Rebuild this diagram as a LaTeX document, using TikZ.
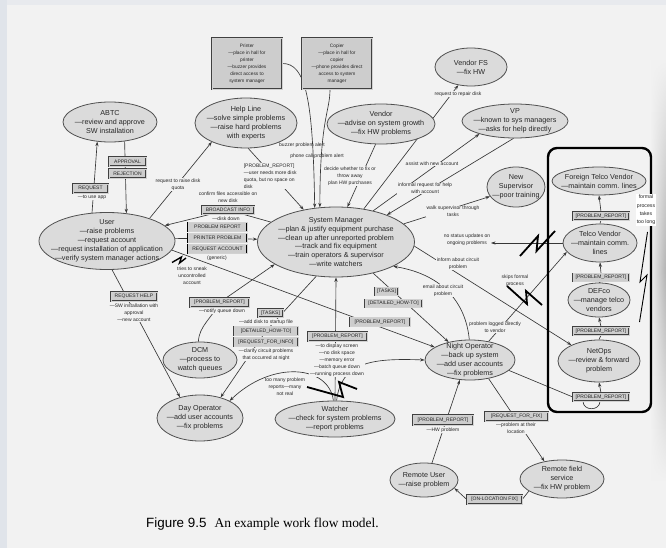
\documentclass[tikz,border=0pt]{standalone}
\usepackage{fontspec}
\setmainfont{Liberation Sans}
\newfontfamily\captionserif{Liberation Serif}
\usetikzlibrary{shapes.geometric,arrows.meta,calc,fadings}

\definecolor{paper}{RGB}{242,242,242}
\definecolor{edgestrip}{RGB}{224,228,234}
\definecolor{bubble}{RGB}{219,219,219}
\definecolor{bubbleline}{RGB}{80,80,80}
\definecolor{tagfill}{RGB}{205,205,205}
\definecolor{ink}{RGB}{55,55,55}

\tikzfading[name=fade at ends, top color=transparent!100, bottom color=transparent!100, middle color=transparent!0]

\pgfdeclarelayer{paperlayer}
\pgfdeclarelayer{linklayer}
\pgfsetlayers{paperlayer,linklayer,main}

\tikzset{
  role/.style={ellipse, draw=bubbleline, line width=0.8pt, fill=bubble, inner sep=0pt},
  roletext/.style={align=center, inner sep=0pt, text=black!85,
    font=\fontsize{7.2}{8.9}\selectfont},
  tag/.style={rectangle, draw=black!75, line width=0.4pt, double=white!82!black,
    double distance=0.5pt, fill=tagfill, inner sep=0pt, minimum height=9pt,
    font=\fontsize{5}{6}\selectfont, text=black!85},
  strongtag/.style={tag, draw=black, line width=0.6pt},
  notebox/.style={tag, align=center, font=\fontsize{4.8}{7}\selectfont},
  note/.style={align=center, inner sep=0.6pt, fill=paper, text=black!85,
    font=\fontsize{5}{7}\selectfont},
  bare/.style={note, fill=none},
  link/.style={draw=ink, line width=0.65pt},
  arr/.style={link, -{Stealth[length=4.5pt,width=3.2pt]}},
  bolt/.style={draw=black, line width=1.8pt, line join=miter},
}

\begin{document}
\begin{tikzpicture}[x=1pt,y=-1pt]
\useasboundingbox (0,0) rectangle (666,548);

% ---------- paper ----------
\begin{pgfonlayer}{paperlayer}
  \fill[paper] (0,0) rectangle (666,548);
  \fill[edgestrip] (0,0) rectangle (7,548);
  \fill[edgestrip!55!paper] (7,0) rectangle (666,5);
  \shade[left color=paper, right color=black!30, path fading=fade at ends] (650,60) rectangle (666,480);
\end{pgfonlayer}

% ---------- actors ----------
\node[role, minimum width=94pt, minimum height=40pt] (ABTC) at (110,122) {};
\node[roletext] at (ABTC) {ABTC\\—review and approve\\SW installation};

\node[role, minimum width=102pt, minimum height=50pt] (HelpLine) at (246,123) {};
\node[roletext] at (HelpLine) {Help Line\\—solve simple problems\\—raise hard problems\\with experts};

\node[role, minimum width=72pt, minimum height=38pt] (VendorFS) at (471,67) {};
\node[roletext] at (VendorFS) {Vendor FS\\—fix HW};

\node[role, minimum width=108pt, minimum height=40pt] (Vendor) at (381,124) {};
\node[roletext] at (Vendor) {Vendor\\—advise on system growth\\—fix HW problems};

\node[role, minimum width=106pt, minimum height=34pt] (VP) at (515,121) {};
\node[roletext] at (VP) {VP\\—known to sys managers\\—asks for help directly};

\node[role, minimum width=58pt, minimum height=40pt] (NewSup) at (516,187) {};
\node[roletext] at (NewSup) {New\\Supervisor\\—poor training};

\node[role, minimum width=136pt, minimum height=57pt] (User) at (107,241) {};
\node[roletext] at (User) {User\\—raise problems\\—request account\\—request installation of application\\—verify system manager actions};

\node[role, minimum width=157pt, minimum height=70pt] (SM) at (336,242) {};
\node[roletext] at (SM) {System Manager\\—plan \& justify equipment purchase\\—clean up after unreported problem\\—track and fix equipment\\—train operators \& supervisor\\—write watchers};

\node[role, minimum width=94pt, minimum height=28pt] (FTV) at (599,181) {};
\node[roletext] at (FTV) {Foreign Telco Vendor\\—maintain comm. lines};

\node[role, minimum width=74pt, minimum height=38pt] (TV) at (600,243) {};
\node[roletext] at (TV) {Telco Vendor\\—maintain comm.\\lines};

\node[role, minimum width=62pt, minimum height=34pt] (DEFco) at (599,300) {};
\node[roletext] at (DEFco) {DEFco\\—manage telco\\vendors};

\node[role, minimum width=82pt, minimum height=42pt] (NetOps) at (599,361) {};
\node[roletext] at (NetOps) {NetOps\\—review \& forward\\problem};

\node[role, minimum width=74pt, minimum height=36pt] (DCM) at (200,360) {};
\node[roletext] at (DCM) {DCM\\—process to\\watch queues};

\node[role, minimum width=86pt, minimum height=46pt] (DayOp) at (200,418) {};
\node[roletext] at (DayOp) {Day Operator\\—add user accounts\\—fix problems};

\node[role, minimum width=120pt, minimum height=36pt] (Watcher) at (335,419) {};
\node[roletext] at (Watcher) {Watcher\\—check for system problems\\—report problems};

\node[role, minimum width=90pt, minimum height=40pt] (NightOp) at (470,360) {};
\node[roletext] at (NightOp) {Night Operator\\—back up system\\—add user accounts\\—fix problems};

\node[role, minimum width=68pt, minimum height=34pt] (RemoteUser) at (424,480) {};
\node[roletext] at (RemoteUser) {Remote User\\—raise problem};

\node[role, minimum width=84pt, minimum height=38pt] (RFS) at (562,479) {};
\node[roletext] at (RFS) {Remote field\\service\\—fix HW problem};

% ---------- devices ----------
\node[notebox, minimum width=70pt, minimum height=51pt] (Printer) at (247,63.5)
  {Printer\\—place in hall for\\printer\\—buzzer provides\\direct access to\\system manager};
\node[notebox, minimum width=70pt, minimum height=51pt] (Copier) at (337,63.5)
  {Copier\\—place in hall for\\copier\\—phone provides direct\\access to system\\manager};

% ---------- telco group frame ----------
\draw[black, line width=2.4pt, rounded corners=9pt] (548,148) rectangle (651,412);

% ---------- message tags ----------
\node[tag, minimum width=37pt] (bApproval) at (127.5,161.5) {APPROVAL};
\node[tag, minimum width=37pt] (bRejection) at (127.5,173.5) {REJECTION};
\node[tag, minimum width=35pt] (bRequest) at (90.5,188.5) {REQUEST};
\node[tag, minimum width=52pt, minimum height=8pt] (bBroadcast) at (228,210) {BROADCAST INFO};
\node[strongtag, minimum width=59pt] (bProb) at (217.5,227) {PROBLEM REPORT};
\node[strongtag, minimum width=59pt] (bPrinterP) at (217.5,238) {PRINTER PROBLEM};
\node[strongtag, minimum width=59pt] (bReqAcct) at (217.5,249) {REQUEST ACCOUNT};
\node[tag, minimum width=46pt] (bReqHelp) at (134,296.5) {REQUEST HELP};
\node[tag, minimum width=59pt] (bPRdcm) at (219.5,302.5) {[PROBLEM\_REPORT]};
\node[tag, minimum width=25pt, minimum height=8pt] (bTasksL) at (270.5,313) {[TASKS]};
\node[tag, minimum width=64pt] (bHowToL) at (266,331) {[DETAILED\_HOW-TO]};
\node[tag, minimum width=64pt] (bReqInfo) at (266,342) {[REQUEST\_FOR\_INFO]};
\node[tag, minimum width=59pt] (bPRwatch) at (337.5,336.5) {[PROBLEM\_REPORT]};
\node[tag, minimum width=23pt, minimum height=8pt] (bTasksR) at (386.5,291.5) {[TASKS]};
\node[tag, minimum width=57pt, minimum height=8pt] (bHowToR) at (393.5,303.5) {[DETAILED\_HOW-TO]};
\node[tag, minimum width=60pt] (bPRnight) at (380,322) {[PROBLEM\_REPORT]};
\node[tag, minimum width=60pt, minimum height=10pt] (bPRremote) at (443,420) {[PROBLEM\_REPORT]};
\node[tag, minimum width=63pt] (bReqFix) at (516.5,416.5) {[REQUEST\_FOR\_FIX]};
\node[tag, minimum width=55pt] (bOnLoc) at (494.5,499.5) {[ON-LOCATION FIX]};
\node[tag, minimum width=56pt, minimum height=8pt] (bPR1) at (601,216) {[PROBLEM\_REPORT]};
\node[tag, minimum width=56pt, minimum height=8pt] (bPR2) at (601,277.5) {[PROBLEM\_REPORT]};
\node[tag, minimum width=56pt, minimum height=8pt] (bPR3) at (601,331) {[PROBLEM\_REPORT]};
\node[tag, minimum width=56pt, minimum height=8pt] (bPR4) at (601,397) {[PROBLEM\_REPORT]};

% ---------- flow labels ----------
\node[note] (tToUseApp) at (92,197) {—to use app};
\node[note] (tQuota) at (178,184.5) {request to raise disk\\quota};
\node[note, align=left, anchor=west] (tPRhelp) at (243,176) {[PROBLEM\_REPORT]\\—user needs more disk\\quota, but no space on\\disk};
\node[note] (tConfirm) at (228,197.5) {confirm files accessible on\\new disk};
\node[note] (tDiskDown) at (226,218.5) {—disk down};
\node[note] (tGeneric) at (217,258) {(generic)};
\node[note] (tSneak) at (192,275.5) {tries to sneak\\uncontrolled\\account};
\node[note] (tReqHelp) at (134,313) {—SW installation with\\approval\\—new account};
\node[note] (tNotify) at (222,311) {—notify queue down};
\node[note] (tAddDisk) at (266,322) {—add disk to startup file};
\node[note] (tClarify) at (266,354.5) {—clarify circuit problems\\that occurred at night};
\node[note] (tWatchList) at (337,360) {—to display screen\\—no disk space\\—memory error\\—batch queue down\\—running process down};
\node[note] (tTooMany) at (285,387) {too many problem\\reports—many\\not real};
\node[note] (tHW) at (443,430) {—HW problem};
\node[note] (tLocation) at (516,428) {—problem at their\\location};
\node[bare] (tBuzzer) at (302,145) {buzzer problem alert};
\node[bare] (tPhone) at (317,156) {phone call problem alert};
\node[note] (tDecide) at (350,176) {decide whether to fix or\\throw away\\plan HW purchases};
\node[note] (tRepair) at (458,94) {request to repair disk};
\node[note] (tAssist) at (432,164) {assist with new account};
\node[note] (tInformal) at (425,188.5) {informal request for help\\with account};
\node[note] (tWalk) at (453,211.5) {walk supervisor through\\tasks};
\node[note] (tNoStatus) at (467,239.5) {no status updates on\\ongoing problems};
\node[note] (tInform) at (458,263.5) {inform about circuit\\problem};
\node[note] (tSkips) at (515,280.5) {skips formal\\process};
\node[note] (tEmail) at (443,290.5) {email about circuit\\problem};
\node[note] (tLogged) at (495,327.5) {problem logged directly\\to vendor};
\node[note, fill=white, inner sep=1pt, font=\fontsize{5.2}{8.4}\selectfont] (tFormal) at (646,210) {formal\\process\\takes\\too long};

% ---------- connectors ----------
\begin{pgfonlayer}{linklayer}
  % user and approvals
  \draw[arr] (User.118) -- (ABTC.-123);
  \draw[arr] (ABTC.-53) -- (User.55);
  \draw[arr] (User.28) -- (HelpLine.-151);
  \draw[arr] (HelpLine.-85) -- (SM.135);
  \draw[arr] (SM.163) -- (bBroadcast.center) -- (User.15);
  \draw[arr] (User.2) -- (bPrinterP.center) -- (SM.178);
  \draw[arr] (User.-8) -- (NightOp.160);
  \draw[arr] (User.-80) -- (DayOp.134);
  % alerts from the hall devices
  \draw[arr] (Printer.east) .. controls (306,63) and (313,100) .. (SM.122);
  \draw[arr] ([xshift=-7pt]Copier.south) .. controls (330,112) and (320,118) .. (SM.115);
  % vendors and management
  \draw[arr] (Vendor.-105) -- (SM.72);
  \draw[arr] (SM.50) -- (VendorFS.-125);
  \draw[arr] (SM.40) -- (VP.-160);
  \draw[arr] (VP.-95) -- (SM.28);
  \draw[arr] (SM.15) -- (NewSup.-160);
  \draw[arr] (TV.west) -- (TV.west -| tNoStatus.east);
  \draw[arr] (SM.-3) -- (NetOps.150);
  % operators
  \draw[arr] (NightOp.92) .. controls (466,305) and (445,275) .. (SM.-23);
  \draw[arr] (NightOp.45) -- (TV.-165);
  \draw[arr] (SM.-40) -- (NightOp.140);
  \draw[arr] (SM.-120) -- (bHowToL.center) -- (DayOp.45);
  \draw[arr] (DCM.95) .. controls (199,326) and (212,318) .. (bPRdcm.center) -- (SM.-160);
  \draw[arr] (Watcher.north) -- (SM.south);
  \draw[arr] (Watcher.95) .. controls (329,365) and (272,360) .. (DayOp.30);
  \draw[arr] (Watcher.85) .. controls (341,362) and (372,358) .. (NightOp.west);
  % remote sites
  \draw[arr] (RemoteUser.65) -- (NightOp.-117);
  \draw[arr] (NightOp.-45) -- (RFS.135);
  \draw[arr] (RFS.-160) -- (bOnLoc.east) -- (bOnLoc.west) -- (RemoteUser.-15);
  % telco escalation chain
  \draw[link] (NightOp.-15) -- (bPR4.west);
  \draw[link] ([xshift=-18pt]bPR4.south) .. controls +(0,10) and +(0,10) .. ([xshift=-1pt]bPR4.south);
  \draw[arr] (bPR4.north) -- (NetOps.south);
  \draw[link] (NetOps.north) -- (bPR3.south);
  \draw[arr] (bPR3.north) -- (DEFco.south);
  \draw[link] (DEFco.north) -- (bPR2.south);
  \draw[arr] (bPR2.north) -- (TV.south);
  \draw[link] (TV.north) -- (bPR1.south);
  \draw[arr] (bPR1.north) -- (FTV.south);
\end{pgfonlayer}

% ---------- breakdowns ----------
\draw[bolt, line width=1.4pt] (172,262.5) -- (181.5,257) -- (179.5,263) -- (186,258);
\draw[bolt] (520,256) -- (538,236) -- (536.5,251) -- (555,231);
\draw[bolt] (507,286) -- (527,304) -- (526,291) -- (542,305);
\draw[bolt] (307,387) -- (343,397) -- (339,382) -- (357,389);
\draw[black, line width=0.9pt] (647.5,232) -- (640,282) -- (647,275) -- (639.5,322);

% ---------- caption ----------
\node[anchor=base west, inner sep=0pt, font=\fontsize{13.4}{15}\selectfont] (caption) at (146,527.5)
  {Figure 9.5\hspace{0.6em}{\captionserif An example work flow model.}};
\end{tikzpicture}
\end{document}
